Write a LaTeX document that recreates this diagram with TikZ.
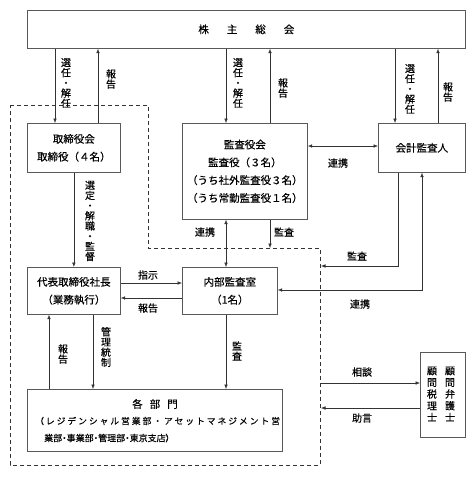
\documentclass[tikz,border=0pt]{standalone}
\usepackage{fontspec}
\newfontfamily\jp[FakeBold=0.3]{Noto Sans CJK JP}
\newfontfamily\jpp[RawFeature=+palt,FakeBold=0.3]{Noto Sans CJK JP}
\newfontfamily\jpw[LetterSpace=22,FakeBold=0.3]{Noto Sans CJK JP}
\usetikzlibrary{arrows.meta}
\begin{document}
\begin{tikzpicture}[x=1pt,y=-1pt,
  box/.style={draw=black!65, line width=0.7pt, fill=white, anchor=north west, inner sep=0pt,
    font=\jp\fontsize{10.5}{17.8}\selectfont, align=center},
  ln/.style={draw=black!80, line width=0.6pt},
  arr/.style={ln, -{Latex[length=4.5pt,width=3.6pt]}},
  darr/.style={ln, {Latex[length=4.5pt,width=3.6pt]}-{Latex[length=4.5pt,width=3.6pt]}},
  lbl/.style={font=\jp\fontsize{10}{10.2}\selectfont, align=center, inner sep=0pt},
  region/.style={draw=black!80, line width=0.6pt, dash pattern=on 4pt off 3pt}]
\useasboundingbox (0,0) rectangle (475,477);
\fill[white] (0,0) rectangle (475,477);

% dashed region
\draw[region] (10,105) -- (148,105) -- (148,248) -- (320,248) -- (320,465) -- (10,465) -- cycle;

% boxes
\node[box, minimum width=438pt, minimum height=38pt] (gm) at (27,10) {};
\node[font=\jp\fontsize{10.5}{12}\selectfont, inner sep=0pt] (gmt) at (gm.center) {株\hspace{18pt}主\hspace{18pt}総\hspace{18pt}会};
\node[box, minimum width=93pt, minimum height=49pt] (tb) at (27,123) {取締役会\\取締役（４名）};
\node[box, minimum width=125pt, minimum height=96pt] (ka) at (182,123) {監査役会\\監査役（３名）\\（うち社外監査役３名）\\（うち常勤監査役１名）};
\node[box, minimum width=87pt, minimum height=49pt] (ac) at (378,123) {会計監査人};
\node[box, minimum width=93pt, minimum height=47pt] (ceo) at (27,267) {代表取締役社長\\（業務執行）};
\node[box, minimum width=95pt, minimum height=47pt] (ia) at (182,267) {内部監査室\\（1名）};
\node[box, minimum width=255pt, minimum height=62pt] (dp) at (27,389) {};
\node[font=\jp\fontsize{10.5}{12}\selectfont, inner sep=0pt] (dp1) at (155,404) {各\hspace{7pt}部\hspace{7pt}門};
\node[font=\jpw\fontsize{8.8}{10}\selectfont, inner sep=0pt, anchor=west] (dp2) at (35,421) {（レジデンシャル営業部・アセットマネジメント営};
\node[font=\jpp\fontsize{9}{10}\selectfont, inner sep=0pt, anchor=west] (dp3) at (44,438) {業部・事業部・管理部・東京支店）};
\node[box, minimum width=45pt, minimum height=85pt] (adv) at (420,352) {};
\node[lbl, font=\jp\fontsize{10}{11.7}\selectfont] (adv1) at (450,394) {顧\\問\\弁\\護\\士};
\node[lbl, font=\jp\fontsize{10}{11.7}\selectfont] (adv2) at (432,394) {顧\\問\\税\\理\\士};

% x / y helper coordinates
\coordinate (x55) at (55,0);
\coordinate (x98) at (98,0);
\coordinate (x226) at (226,0);
\coordinate (x270) at (270,0);
\coordinate (x395) at (395,0);
\coordinate (x438) at (438,0);
\coordinate (x49) at (49,0);
\coordinate (x93) at (93,0);
\coordinate (y283) at (0,283);
\coordinate (y298) at (0,298);
\coordinate (y146) at (0,146);
\coordinate (kaout) at (270,248);
\coordinate (acA) at (398,266);
\coordinate (acB) at (321,266);
\coordinate (lkA) at (422,290);
\coordinate (sdA) at (321,383);
\coordinate (jgA) at (321,408);

% shareholders meeting connectors
\draw[arr] (gm.south -| x55) -- (tb.north -| x55);
\draw[arr] (tb.north -| x98) -- (gm.south -| x98);
\draw[arr] (gm.south -| x226) -- (ka.north -| x226);
\draw[arr] (ka.north -| x270) -- (gm.south -| x270);
\draw[arr] (gm.south -| x395) -- (ac.north -| x395);
\draw[arr] (ac.north -| x438) -- (gm.south -| x438);
\node[lbl] (l1) at (66,83) {選\\任\\・\\解\\任};
\node[lbl] (l2) at (111,79) {報\\告};
\node[lbl] (l3) at (238,83) {選\\任\\・\\解\\任};
\node[lbl] (l4) at (283,88) {報\\告};
\node[lbl] (l5) at (410,89) {選\\任\\・\\解\\任};
\node[lbl] (l6) at (448,92) {報\\告};

% audit board <-> accounting auditor
\draw[darr] (ka.east |- y146) -- (ac.west |- y146);
\node[lbl] (l7) at (338,163) {連携};

% board -> CEO
\draw[arr] (tb.south) -- (ceo.north);
\node[lbl] (l8) at (90,221) {選\\定\\・\\解\\職\\・\\監\\督};

% CEO <-> internal audit
\draw[arr] (ceo.east |- y283) -- (ia.west |- y283);
\draw[arr] (ia.west |- y298) -- (ceo.east |- y298);
\node[lbl] (l9) at (148,275) {指示};
\node[lbl] (l10) at (148,308) {報告};

% audit board <-> internal audit
\draw[darr] (ka.south -| x226) -- (ia.north -| x226);
\node[lbl] (l11) at (205,232) {連携};
\draw[arr] (ka.south -| x270) -- (kaout);
\node[lbl] (l12) at (284,232) {監査};

% accounting auditor
\draw[arr] (ac.south -| acA) -- (acA) -- (acB);
\node[lbl] (l13) at (357,256) {監査};
\draw[darr] (ia.east |- lkA) -- (lkA) -- (ac.south -| lkA);
\node[lbl] (l14) at (360,304) {連携};

% CEO / internal audit -> departments
\draw[arr] (dp.north -| x49) -- (ceo.south -| x49);
\node[lbl] (l15) at (63,354) {報\\告};
\draw[arr] (ceo.south -| x93) -- (dp.north -| x93);
\node[lbl] (l16) at (106,347) {管\\理\\統\\制};
\draw[arr] (ia.south -| x226) -- (dp.north -| x226);
\node[lbl] (l17) at (237,351) {監\\査};

% advisors
\draw[arr] (sdA) -- (adv.west |- sdA);
\node[lbl] (l18) at (362,372) {相談};
\draw[arr] (adv.west |- jgA) -- (jgA);
\node[lbl] (l19) at (362,418) {助言};
\end{tikzpicture}
\end{document}
